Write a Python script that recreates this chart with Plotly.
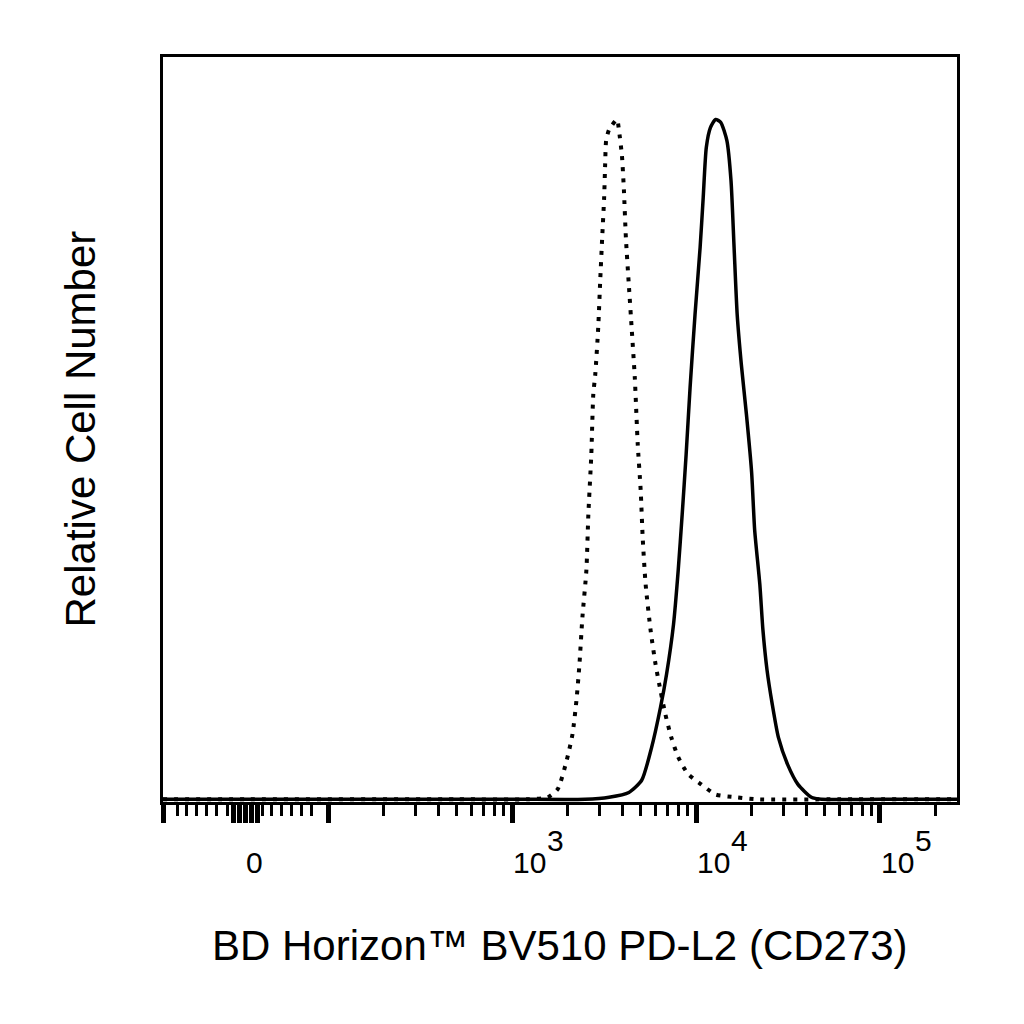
import numpy as np
import plotly.graph_objects as go

# fluorescence values (BV510 intensity) and relative counts
iso_x = [-100, 0, 500, 1200, 1566, 1772, 1981, 2133, 2241, 2326, 2414, 2537, 2600, 2698,
         2766, 2835, 2942, 3016, 3091, 3168, 3208, 3248, 3371, 3721, 3814, 3958, 4057,
         4159, 4315, 4478, 4648, 4824, 5006, 5132, 5325, 5664, 6025, 6410, 6817, 7340,
         8005, 9060, 10665, 12774, 16530, 21390, 60000, 262143]
iso_y = [0, 0, 0, 0, 0.3, 1.5, 5.7, 9.6, 14.6, 19.9, 26.8, 33.7, 41.9, 50.7,
         59.6, 62.5, 69.4, 76.3, 82.6, 88.5, 93.4, 96.9, 98.5, 100, 98.4, 94.7, 89.6,
         82.6, 75.7, 69.0, 62.1, 52.2, 45.4, 38.5, 31.6, 24.9, 19.9, 16.0, 12.5, 9.1,
         6.2, 3.7, 2.2, 0.7, 0.3, 0, 0, 0]

pdl2_x = [-100, 0, 1000, 2500, 3371, 4316, 5068, 5735, 6410, 6918, 7545, 8005, 8412, 8837,
          9287, 9878, 10529, 10943, 11376, 11976, 12774, 13626, 14720, 15499, 16106,
          16745, 17630, 18800, 20060, 20840, 22230, 23110, 24330, 25960, 28040, 31490,
          35820, 42360, 48170, 100000, 262143]
pdl2_y = [0, 0, 0, 0, 0.3, 1.0, 2.8, 7.6, 13.5, 18.4, 25.7, 33.7, 41.9, 50.7,
          60.6, 71.3, 81.2, 88.5, 95.9, 98.8, 100, 99.6, 96.9, 91.0, 81.2,
          71.3, 64.0, 56.6, 48.1, 39.6, 31.6, 24.9, 19.0, 14.0, 9.1, 5.1,
          2.2, 0.3, 0, 0, 0]

# axis ticks (biexponential display)
major_ticks = [-100, -14, -7, 0, 7, 14, 100, 1000, 10000, 100000]
minor_ticks = [-83, -71, -59, -47, -35, -22, 20, 32, 44, 56, 68, 80,
               200, 300, 400, 500, 600, 700, 800, 900,
               2000, 3000, 4000, 5000, 6000, 7000, 8000, 9000,
               20000, 30000, 40000, 50000, 60000, 70000, 80000, 90000, 200000]
label_vals = [0, 1000, 10000, 100000]
label_base = ["0", "10", "10", "10"]
label_exp = ["", "3", "4", "5"]
x_min, x_max = -100, 262143
lin_slope = 0.004484  # decades per unit in the linear part below 100


def to_disp(v):
    # log above 100, linear through zero below
    v = np.asarray(v, dtype=float)
    return np.where(v >= 100, np.log10(np.maximum(v, 100)), 2 + (v - 100) * lin_slope)


font = "Liberation Sans, Arial, sans-serif"
fig = go.Figure()

fig.add_trace(go.Scatter(
    x=to_disp(iso_x), y=iso_y, mode="lines",
    line=dict(color="black", width=4, dash="4px,7px", shape="spline", smoothing=0.6),
    name="Isotype"))
fig.add_trace(go.Scatter(
    x=to_disp(pdl2_x), y=pdl2_y, mode="lines",
    line=dict(color="black", width=3.5, shape="spline", smoothing=0.6),
    name="PD-L2"))

tick_font = dict(family=font, size=30, color="black")
for v, b, e in zip(label_vals, label_base, label_exp):
    if e:
        fig.add_annotation(x=float(to_disp(v)), y=0, xref="x", yref="paper", text=b,
                           showarrow=False, xanchor="left", yanchor="middle",
                           xshift=-1, yshift=-60, font=tick_font)
        fig.add_annotation(x=float(to_disp(v)), y=0, xref="x", yref="paper", text=e,
                           showarrow=False, xanchor="left", yanchor="middle",
                           xshift=33, yshift=-38, font=tick_font)
    else:
        fig.add_annotation(x=float(to_disp(v)), y=0, xref="x", yref="paper", text=b,
                           showarrow=False, xanchor="center", yanchor="middle",
                           xshift=9, yshift=-60, font=tick_font)

fig.add_annotation(x=0.5, y=0, xref="paper", yref="paper",
                   text="BD Horizon™ BV510 PD-L2 (CD273)", showarrow=False,
                   xanchor="center", yanchor="middle", yshift=-143,
                   font=dict(family=font, size=42, color="black"))
fig.add_annotation(x=0, y=0.5, xref="paper", yref="paper",
                   text="Relative Cell Number", showarrow=False, textangle=-90,
                   xanchor="center", yanchor="middle", xshift=-83,
                   font=dict(family=font, size=42, color="black"))

fig.update_xaxes(
    range=[float(to_disp(x_min)), float(to_disp(x_max))],
    showline=True, linecolor="black", linewidth=3, mirror=True,
    showgrid=False, zeroline=False, showticklabels=False,
    ticks="outside", tickmode="array", tickvals=list(to_disp(major_ticks)),
    ticklen=18, tickwidth=5, tickcolor="black",
    minor=dict(tickmode="array", tickvals=list(to_disp(minor_ticks)),
               ticks="outside", ticklen=11, tickwidth=3, tickcolor="black", showgrid=False),
)
fig.update_yaxes(
    range=[-0.4, 109.2],
    showline=True, linecolor="black", linewidth=3, mirror=True,
    showgrid=False, zeroline=False, showticklabels=False, ticks="",
)

# page body adds an 8px margin, so the figure is sized to fit inside it
fig.update_layout(
    width=1008, height=1008,
    margin=dict(l=155, r=59, t=49, b=214),
    plot_bgcolor="white", paper_bgcolor="white",
    showlegend=False,
    font=dict(family=font, color="black"),
)

fig.write_html("out.html")
